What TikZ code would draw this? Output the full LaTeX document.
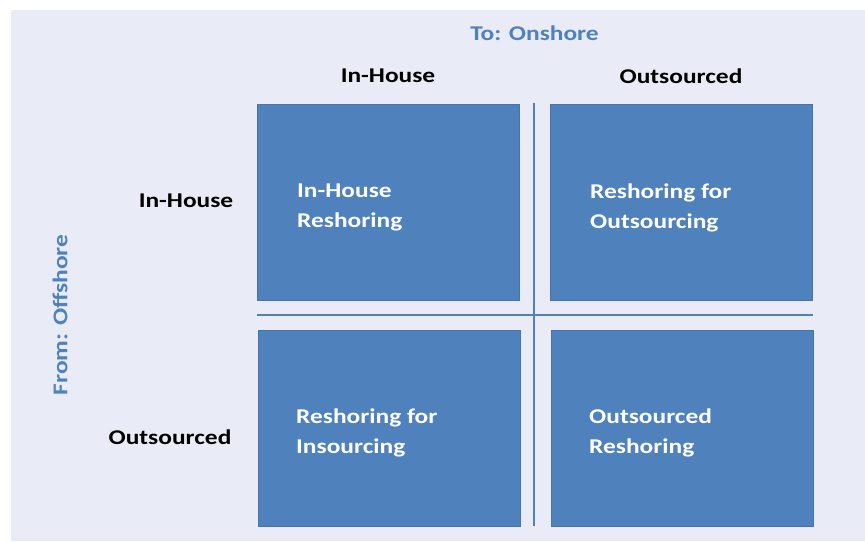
\documentclass[tikz,border=0pt]{standalone}
\usepackage{fontspec}
\setmainfont{Carlito}[FakeStretch=1.21]
\definecolor{bgc}{HTML}{E9ECF7}
\definecolor{boxc}{HTML}{4F81BD}
\definecolor{edgec}{HTML}{4675AD}
\definecolor{titlec}{HTML}{4F81BD}
\begin{document}
\begin{tikzpicture}[x=1pt,y=-1pt,
  lbl/.style={font=\fontsize{21}{30}\selectfont\bfseries, inner sep=0pt},
  quad/.style={draw=edgec, line width=0.8pt, fill=boxc, minimum width=262pt, minimum height=196pt, inner sep=0pt},
  qtext/.style={lbl, text=white, align=left, anchor=west},
  sep/.style={draw=boxc, line width=2pt}]
\useasboundingbox (0,0) rectangle (865,541);
\fill[white] (0,0) rectangle (865,541);
\fill[bgc] (11,10) rectangle (865,541);
% quadrants
\node[quad, anchor=north west] (tl) at (257,104) {};
\node[quad, anchor=north west] (tr) at (549.5,104) {};
\node[quad, anchor=north west] (bl) at (258,330) {};
\node[quad, anchor=north west] (br) at (550.5,330) {};
% separators
\coordinate (vt) at (534,103);
\coordinate (vb) at (534,526);
\coordinate (hl) at (257,314.5);
\coordinate (hr) at (813,314.5);
\draw[sep] (vt) -- (vb);
\draw[sep] (hl) -- (hr);
% quadrant texts
\node[qtext] (tlt) at (297,207.5) {In-House\\Reshoring};
\node[qtext] (trt) at (590,207.5) {Reshoring for\\Outsourcing};
\node[qtext] (blt) at (296,433) {Reshoring for\\Insourcing};
\node[qtext] (brt) at (589,433) {Outsourced\\Reshoring};
% headers
\node[lbl, text=titlec] (to) at (534.5,33) {To: Onshore};
\node[lbl] (cih) at (388,76) {In-House};
\node[lbl] (cout) at (681,76) {Outsourced};
\node[lbl] (rih) at (186,201) {In-House};
\node[lbl] (rout) at (170,437) {Outsourced};
\node[lbl, text=titlec, rotate=90] (from) at (60,315) {From: Offshore};
\end{tikzpicture}
\end{document}
